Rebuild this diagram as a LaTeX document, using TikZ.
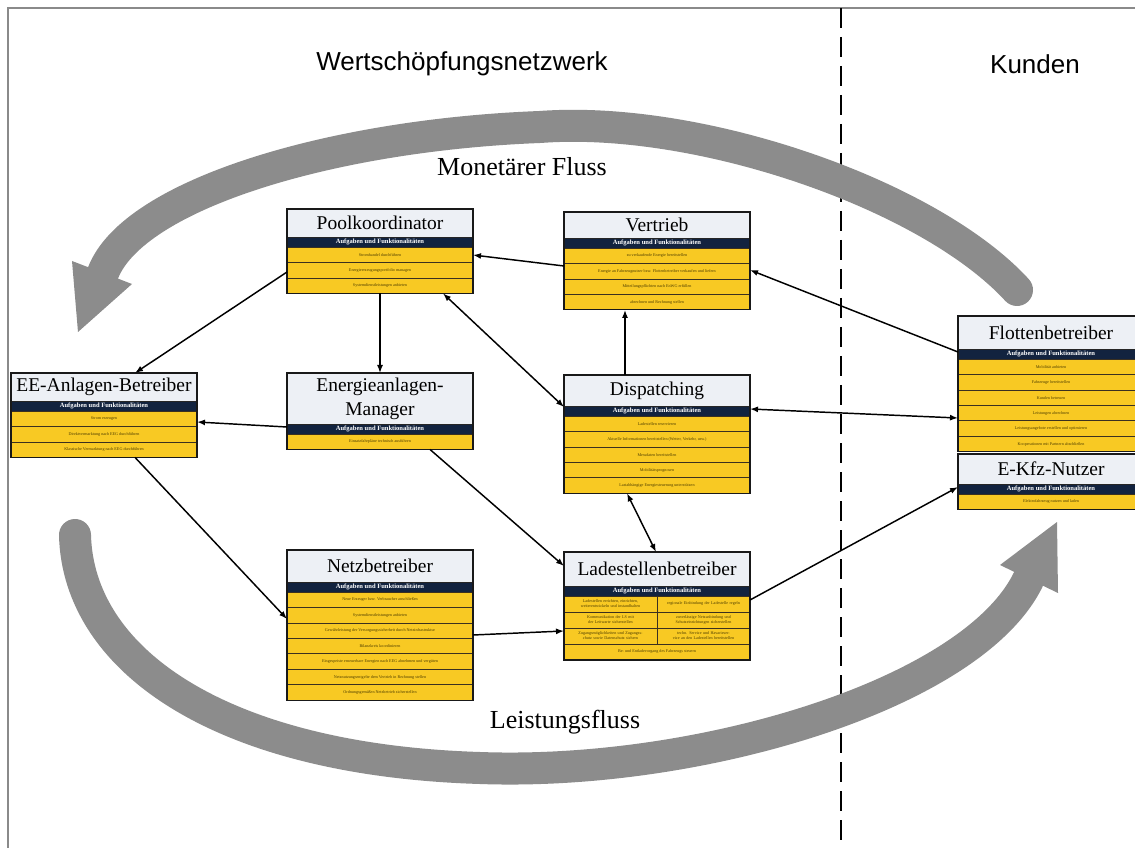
\documentclass[tikz,border=0pt]{standalone}
\usepackage{fontspec}
\setmainfont{Liberation Serif}
\newfontfamily\headfont{Liberation Sans}
\usetikzlibrary{arrows.meta,fit}

\definecolor{titlegrey}{HTML}{EDF0F5}
\definecolor{navy}{HTML}{12233F}
\definecolor{gold}{HTML}{F8C923}
\definecolor{rowtext}{HTML}{4A3B00}
\definecolor{rowline}{HTML}{3A3020}
\definecolor{flowgrey}{HTML}{8C8C8C}
\definecolor{framegrey}{HTML}{8A8A8A}

% One role: title cell, header bar, task rows, outer frame named #1
\newcommand\rolebox[5]{%
  \node[titlecell, minimum height=#3, anchor=north west] (#1-t) at (#2) {#4};
  \node[headcell, anchor=north west] (#1-h) at (#1-t.south west) {Aufgaben und Funktionalitäten};
  \foreach \rowtext [count=\i, remember=\i as \j (initially h)] in {#5} {
    \node[rowcell, anchor=north west] (#1-\i) at (#1-\j.south west) {\rowtext};
    \xdef\lastrow{\i}
  }
  \node[boxframe, fit=(#1-t)(#1-\lastrow)] (#1) {};
}

\begin{document}
\begin{tikzpicture}[x=0.75pt, y=-0.75pt,
  titlecell/.style={draw=black!85, line width=0.5pt, fill=titlegrey, minimum width=139.5pt,
    inner sep=0pt, outer sep=0pt, align=center, font=\fontsize{14.6}{18}\selectfont},
  headcell/.style={draw=black!85, line width=0.5pt, fill=navy, minimum width=139.5pt,
    minimum height=7.5pt, inner sep=0pt, outer sep=0pt, text=white,
    font=\bfseries\fontsize{4.9}{5.5}\selectfont},
  rowcell/.style={draw=rowline, line width=0.6pt, fill=gold, minimum width=139.5pt,
    minimum height=11.6pt, inner sep=0pt, outer sep=0pt, text=rowtext,
    font=\fontsize{3.1}{3.8}\selectfont},
  halfcell/.style={rowcell, minimum width=69.75pt, minimum height=12pt, text width=64pt, align=center},
  boxframe/.style={draw=black!90, line width=0.8pt, inner sep=0pt, outer sep=0pt},
  link/.style={line width=1.1pt, -{Latex[length=6pt,width=4.5pt]}},
  link2/.style={line width=1.1pt, {Latex[length=6pt,width=4.5pt]}-{Latex[length=6pt,width=4.5pt]}},
  flowband/.style={draw=flowgrey, line width=24pt, line cap=round},
  bigtitle/.style={font=\headfont\fontsize{19.5}{22}\selectfont},
  flowlabel/.style={font=\fontsize{19.5}{22}\selectfont}
]
\useasboundingbox (0,0) rectangle (1135,848);
\fill[white] (0,0) rectangle (1135,848);

% outer frame and the customer divider
\draw[framegrey, line width=0.9pt] (8,848) -- (8,8) -- (1135,8);
\draw[black, line width=1.5pt, dash pattern=on 15pt off 6.75pt] (841,8) -- (841,848);

% headings
\node[bigtitle] (hnet) at (462,64) {Wertschöpfungsnetzwerk};
\node[bigtitle] (hcust) at (1035,64) {Kunden};

% money flow (top) and service flow (bottom)
\draw[flowband] (1017,290) .. controls (930,195) and (700,115) .. (540,127)
  .. controls (330,135) and (133,195) .. (103,273);
\fill[flowgrey] (72,261) -- (78,332) -- (132,284) -- cycle;
\draw[flowband] (75,535) .. controls (78,660) and (220,760) .. (480,768)
  .. controls (700,776) and (972,694) .. (1028,580);
\fill[flowgrey] (1000,565) -- (1057,522) -- (1058,593) -- cycle;
\node[flowlabel] (lmoney) at (522,167) {Monetärer Fluss};
\node[flowlabel] (lservice) at (565,722) {Leistungsfluss};

% roles
\rolebox{pool}{287,209}{21pt}{Poolkoordinator}{Stromhandel durchführen,
  Energieerzeugungsportfolio managen, Systemdienstleistungen anbieten}
\rolebox{vert}{564,212}{19.5pt}{Vertrieb}{zu verkaufende Energie bereitstellen,
  Energie an Fahrzeugnutzer bzw. Flottenbetreiber verkaufen und liefern,
  Mitteilungspflichten nach EnWG erfüllen, abrechnen und Rechnung stellen}
\rolebox{ee}{11,373}{21pt}{EE-Anlagen-Betreiber}{Strom erzeugen,
  Direktvermarktung nach EEG durchführen, Klassische Vermarktung nach EEG durchführen}
\rolebox{em}{287,373}{38.25pt}{Energieanlagen-\\Manager}{Einsatzfahrpläne technisch ausführen}
\rolebox{disp}{564,375}{23.25pt}{Dispatching}{Ladestellen reservieren,
  {Aktuelle Informationen bereitstellen (Wetter, Verkehr, usw.)},
  Messdaten bereitstellen, Mobilitätsprognosen,
  Lastabhängige Energiesteuerung unterstützen}
\rolebox{netz}{287,550}{24pt}{Netzbetreiber}{Neue Erzeuger bzw. Verbraucher anschließen,
  Systemdienstleistungen anbieten,
  Gewährleistung der Versorgungssicherheit durch Netzinfrastruktur,
  Bilanzkreis koordinieren,
  Eingespeiste erneuerbare Energien nach EEG abnehmen und vergüten,
  Netznutzungsentgelte dem Vertrieb in Rechnung stellen,
  Ordnungsgemäßen Netzbetrieb sicherstellen}
\rolebox{flot}{958,316}{24.75pt}{Flottenbetreiber}{Mobilität anbieten,
  Fahrzeuge bereitstellen, Kunden betreuen, Leistungen abrechnen,
  Leistungsangebote erstellen und optimieren, Kooperationen mit Partnern abschließen}
\rolebox{ekfz}{958,454}{22.5pt}{E-Kfz-Nutzer}{Elektrofahrzeug nutzen und laden}

% charging point operator with two-column task rows
\node[titlecell, minimum height=25.5pt, anchor=north west] (ls-t) at (564,552) {Ladestellenbetreiber};
\node[headcell, anchor=north west] (ls-h) at (ls-t.south west) {Aufgaben und Funktionalitäten};
\node[halfcell, anchor=north west] (ls-1a) at (ls-h.south west)
  {Ladestellen errichten, einrichten, weiterentwickeln und instandhalten};
\node[halfcell, anchor=north west] (ls-1b) at (ls-h.south)
  {regionale Einbindung der Ladestelle regeln};
\node[halfcell, anchor=north west] (ls-2a) at (ls-1a.south west)
  {Kommunikation der LS mit der Leitwarte sicherstellen};
\node[halfcell, anchor=north west] (ls-2b) at (ls-1b.south west)
  {zuverlässige Netzanbindung und Schutzeinrichtungen sicherstellen};
\node[halfcell, anchor=north west] (ls-3a) at (ls-2a.south west)
  {Zugangsmöglichkeiten und Zugangsschutz sowie Datenschutz sichern};
\node[halfcell, anchor=north west] (ls-3b) at (ls-2b.south west)
  {techn. Service und Havarieservice an den Ladestellen bereitstellen};
\node[rowcell, minimum height=12pt, anchor=north west] (ls-4) at (ls-3a.south west)
  {Be- und Entladevorgang des Fahrzeugs steuern};
\node[boxframe, fit=(ls-t)(ls-4)] (ls) {};

% relations between the roles
\draw[link] ([yshift=-47.25pt]pool.north west) -- ([xshift=93pt]ee.north west);
\draw[link] ([xshift=69.75pt]pool.south west) -- ([xshift=69.75pt]em.north west);
\draw[link] ([yshift=-40.5pt]vert.north west) -- ([yshift=-34.5pt]pool.north east);
\draw[link2] ([xshift=117pt]pool.south west) -- ([yshift=-24pt]disp.north west);
\draw[link] ([xshift=45.75pt]disp.north west) -- ([xshift=45.75pt]vert.south west);
\draw[link] ([yshift=-27pt]flot.north west) -- ([yshift=-43.5pt]vert.north east);
\draw[link2] ([yshift=-76.5pt]flot.north west) -- ([yshift=-25.5pt]disp.north east);
\draw[link] ([yshift=-40.5pt]em.north west) -- ([yshift=-36.75pt]ee.north east);
\draw[link] ([xshift=93pt]ee.south west) -- ([yshift=-51.75pt]netz.north west);
\draw[link] ([xshift=107.25pt]em.south west) -- ([yshift=-10.5pt]ls.north west);
\draw[link] ([yshift=-63.75pt]netz.north east) -- ([yshift=-59.25pt]ls.north west);
\draw[link2] ([xshift=47.25pt]disp.south west) -- ([xshift=69pt]ls.north west);
\draw[link] ([yshift=-36pt]ls.north east) -- ([yshift=-24.75pt]ekfz.north west);
\end{tikzpicture}
\end{document}
